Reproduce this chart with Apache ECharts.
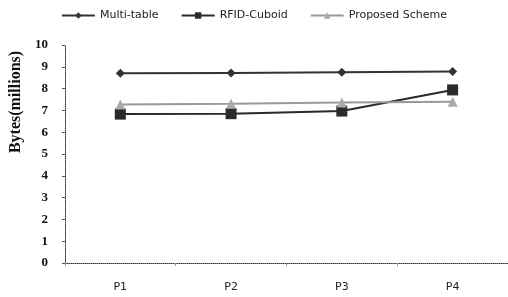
<!DOCTYPE html>
<html>
<head>
<meta charset="utf-8">
<script src="https://cdn.jsdelivr.net/npm/echarts@6/dist/echarts.min.js"></script>
<style>
  html, body { margin: 0; padding: 0; background: #fff; }
  #main { width: 508px; height: 297px; }
</style>
</head>
<body>
<div id="main"></div>
<script>
var categorias = ["P1", "P2", "P3", "P4"];
var multiTable = [8.7, 8.72, 8.75, 8.78];
var rfidCuboid = [6.83, 6.85, 6.97, 7.94];
var propuesto = [7.27, 7.3, 7.36, 7.4];
var ticksY = [0, 1, 2, 3, 4, 5, 6, 7, 8, 9, 10];

var chart = echarts.init(document.getElementById("main"));

var option = {
  animation: false,
  backgroundColor: "#fff",
  legend: {
    top: 5,
    left: "center",
    itemGap: 22,
    itemWidth: 33,
    itemHeight: 8,
    textStyle: { fontFamily: "DejaVu Sans", fontSize: 11, color: "#222" },
    data: ["Multi-table", "RFID-Cuboid", "Proposed Scheme"]
  },
  grid: { left: 64, right: 0, top: 45, bottom: 34 },
  xAxis: {
    type: "category",
    data: categorias,
    boundaryGap: true,
    axisLine: { lineStyle: { color: "#333", type: "dotted", width: 1 } },
    axisTick: { show: true, length: 3, lineStyle: { color: "#999" } },
    axisLabel: { fontFamily: "DejaVu Sans", fontSize: 11, color: "#222", margin: 19 }
  },
  yAxis: {
    type: "value",
    min: ticksY[0],
    max: ticksY[ticksY.length - 1],
    interval: 1,
    name: "Bytes(millions)",
    nameLocation: "middle",
    nameGap: 33,
    nameTextStyle: {
      fontFamily: "Liberation Serif", fontWeight: "bold", fontSize: 16, color: "#111",
      padding: [0, 0, 0, 104]
    },
    splitLine: { show: false },
    axisLine: { show: true, lineStyle: { color: "#333", type: "dotted", width: 1 } },
    axisTick: { show: true, length: 3, lineStyle: { color: "#555" } },
    axisLabel: { fontFamily: "Liberation Serif", fontWeight: "bold", fontSize: 13, color: "#111", margin: 17 }
  },
  series: [
    {
      name: "Multi-table",
      type: "line",
      data: multiTable,
      symbol: "diamond",
      symbolSize: 9,
      itemStyle: { color: "#333" },
      lineStyle: { color: "#333", width: 2 }
    },
    {
      name: "RFID-Cuboid",
      type: "line",
      data: rfidCuboid,
      symbol: "rect",
      symbolSize: 11,
      itemStyle: { color: "#2a2a2a" },
      lineStyle: { color: "#2a2a2a", width: 2 }
    },
    {
      name: "Proposed Scheme",
      type: "line",
      data: propuesto,
      symbol: "triangle",
      symbolSize: 10,
      itemStyle: { color: "#aaa" },
      lineStyle: { color: "#999", width: 2 }
    }
  ]
};

chart.setOption(option);
</script>
</body>
</html>
